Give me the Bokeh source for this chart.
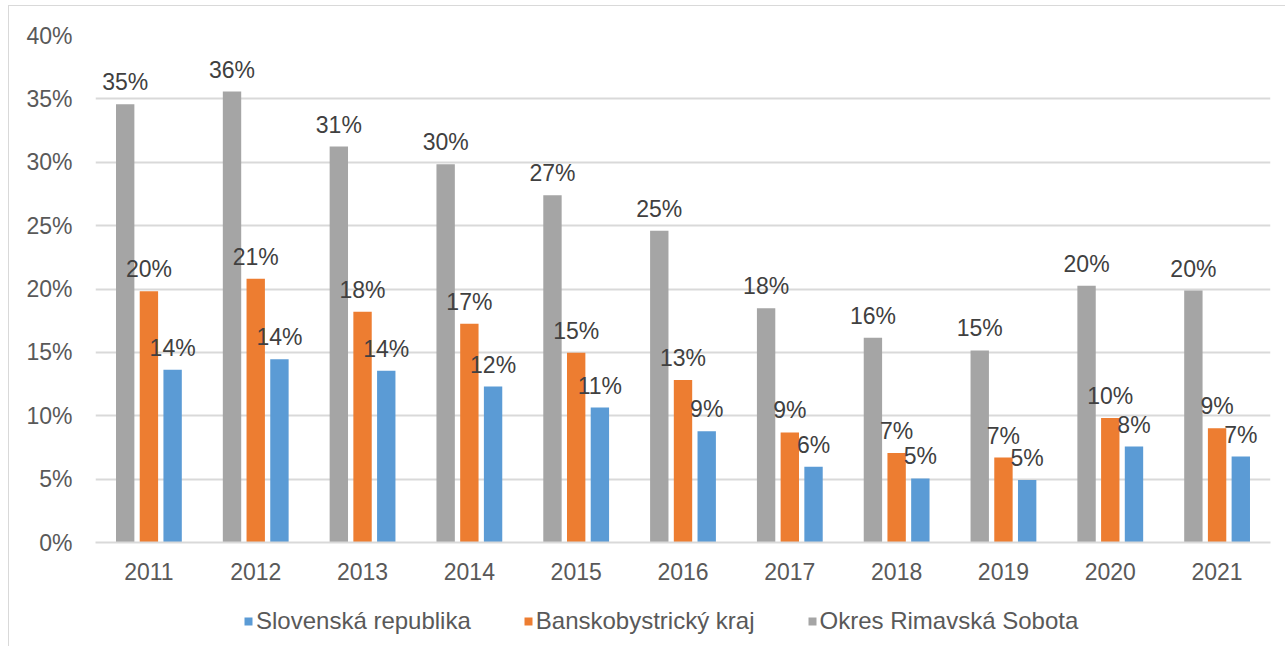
from bokeh.plotting import figure
from bokeh.layouts import column
from bokeh.models import (ColumnDataSource, FactorRange, Range1d, Legend, LegendItem,
                          NumeralTickFormatter, FixedTicker)
from bokeh.transform import dodge
from bokeh.core.properties import value
from bokeh.embed import file_html
from bokeh.resources import INLINE

years = ["2011", "2012", "2013", "2014", "2015", "2016", "2017", "2018", "2019", "2020", "2021"]
okres = [0.3458, 0.3558, 0.3124, 0.2985, 0.2740, 0.2460, 0.1849, 0.1615, 0.1515, 0.2025, 0.1988]
kraj = [0.1983, 0.2080, 0.1820, 0.1725, 0.1497, 0.1283, 0.0868, 0.0707, 0.0670, 0.0983, 0.0902]
sr = [0.1362, 0.1446, 0.1355, 0.1230, 0.1065, 0.0878, 0.0597, 0.0505, 0.0494, 0.0757, 0.0678]
series_names = ["Slovenská republika", "Banskobystrický kraj", "Okres Rimavská Sobota"]
y_ticks = [0, 0.05, 0.10, 0.15, 0.20, 0.25, 0.30, 0.35, 0.40]

FONT = "Liberation Sans"
GRAY = "#A5A5A5"
ORANGE = "#ED7D31"
BLUE = "#5B9BD5"
GRID = "#D9D9D9"


def lab(vals):
    return [f"{int(v * 100 + 0.5)}%" for v in vals]


src = ColumnDataSource(dict(years=years, okres=okres, kraj=kraj, sr=sr,
                            okres_l=lab(okres), kraj_l=lab(kraj), sr_l=lab(sr)))

W = 0.172
OFF = 0.222


def bars(fig):
    g = fig.vbar(x=dodge("years", -OFF, range=fig.x_range), top="okres", width=W, source=src,
                 fill_color=GRAY, line_color=None)
    o = fig.vbar(x=dodge("years", 0.0, range=fig.x_range), top="kraj", width=W, source=src,
                 fill_color=ORANGE, line_color=None)
    b = fig.vbar(x=dodge("years", OFF, range=fig.x_range), top="sr", width=W, source=src,
                 fill_color=BLUE, line_color=None)
    return g, o, b


p = figure(x_range=FactorRange(*years), y_range=(0, 0.40), width=1276, height=596,
           output_backend="svg", toolbar_location=None,
           min_border_left=86, min_border_top=29, min_border_bottom=60, min_border_right=15)
p.outline_line_color = None

bars(p)

for off, col, lcol in [(-OFF, "okres", "okres_l"), (0.0, "kraj", "kraj_l"), (OFF, "sr", "sr_l")]:
    p.text(x=dodge("years", off, range=p.x_range), y=col, text=lcol, source=src,
           text_align="center", text_baseline="bottom", y_offset=-9,
           text_font=value(FONT), text_font_size="23px", text_color="#404040")

# axes
p.yaxis.ticker = FixedTicker(ticks=y_ticks)
p.yaxis.formatter = NumeralTickFormatter(format="0%")
p.yaxis.axis_line_color = None
p.yaxis.major_tick_line_color = None
p.yaxis.minor_tick_line_color = None
p.yaxis.major_label_standoff = 17
p.yaxis.major_label_text_font = FONT
p.yaxis.major_label_text_font_size = "23px"
p.yaxis.major_label_text_color = "#595959"

p.xaxis.axis_line_color = GRID
p.xaxis.axis_line_width = 2
p.xaxis.major_tick_line_color = None
p.xaxis.minor_tick_line_color = None
p.xaxis.major_label_standoff = 14
p.xaxis.major_label_text_font = FONT
p.xaxis.major_label_text_font_size = "23px"
p.xaxis.major_label_text_color = "#595959"

p.xgrid.grid_line_color = None
p.ygrid.grid_line_color = GRID
p.ygrid.grid_line_width = 2
p.ygrid.ticker = FixedTicker(ticks=y_ticks)

# legend strip below the chart (bars here lie outside its view; only the legend shows)
p2 = figure(x_range=p.x_range, y_range=Range1d(10, 11), width=1276, height=44,
            output_backend="svg", toolbar_location=None,
            x_axis_type=None, y_axis_type=None,
            min_border_left=0, min_border_top=0, min_border_bottom=0, min_border_right=0)
p2.outline_line_color = None
p2.grid.grid_line_color = None
lg, lo, lb = bars(p2)

legend = Legend(items=[LegendItem(label=series_names[0], renderers=[lb]),
                       LegendItem(label=series_names[1], renderers=[lo]),
                       LegendItem(label=series_names[2], renderers=[lg])],
                orientation="horizontal", location=(148, 11),
                glyph_width=10, glyph_height=10, label_standoff=3, spacing=52,
                padding=0, margin=0, border_line_color=None, background_fill_alpha=0,
                label_text_font=FONT, label_text_font_size="24px", label_text_color="#595959")
p2.add_layout(legend, "center")

layout = column(p, p2, spacing=0)
layout.styles = {"margin-left": "8px", "margin-top": "5px",
                 "border-left": "1px solid #D9D9D9", "border-top": "1px solid #D9D9D9"}

open("out.html", "w").write(file_html(layout, INLINE))
